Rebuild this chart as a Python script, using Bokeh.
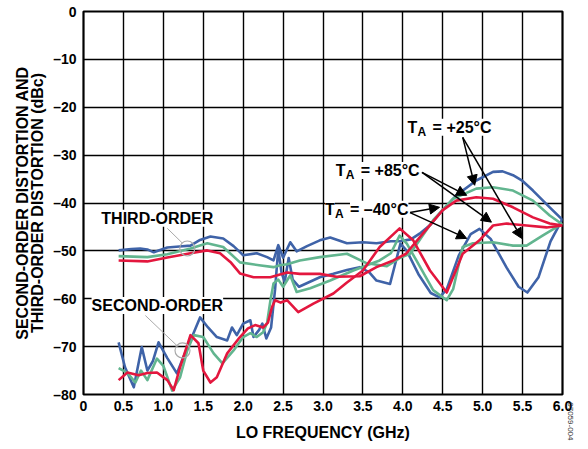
from bokeh.plotting import figure
from bokeh.models import Range1d, Label, Arrow, NormalHead, FixedTicker, LinearAxis, Title
from bokeh.embed import file_html
from bokeh.resources import INLINE

FONT = "Liberation Sans"

# ---------------- data (LO frequency in GHz, distortion in dBc) ----------------
# Third-order, TA = -40 C (blue)
f_3rd_m40 = [0.44, 0.6, 0.71, 0.8, 0.88, 0.96, 1.05, 1.2, 1.34, 1.45, 1.59, 1.75, 1.88, 2.0, 2.17,
             2.3, 2.38, 2.44, 2.5, 2.59, 2.67, 2.8, 2.96, 3.09, 3.3, 3.5, 3.67, 3.85, 3.96, 4.1,
             4.21, 4.35, 4.46, 4.67, 4.92, 5.13, 5.25, 5.38, 5.5, 5.63, 5.84, 6.0]
d_3rd_m40 = [-49.9, -49.6, -49.5, -49.7, -50.3, -49.8, -49.3, -49.1, -48.9, -47.8, -47.0, -47.4, -49.0,
             -50.9, -50.5, -51.3, -52.0, -48.8, -51.4, -48.2, -50.1, -49.0, -47.8, -47.2, -48.4, -48.2,
             -48.4, -48.0, -48.0, -47.6, -46.4, -44.5, -42.2, -38.4, -35.3, -33.5, -33.4, -34.2, -35.4,
             -37.4, -40.9, -43.5]
# Third-order, TA = +25 C (green)
f_3rd_p25 = [0.44, 0.8, 1.05, 1.34, 1.55, 1.75, 1.96, 2.2, 2.38, 2.46, 2.55, 2.71, 2.96, 3.3, 3.55,
             3.8, 3.96, 4.09, 4.2, 4.38, 4.63, 4.92, 5.13, 5.38, 5.63, 5.84, 6.0]
d_3rd_p25 = [-51.1, -51.3, -50.7, -49.5, -48.4, -49.2, -52.4, -53.0, -53.4, -53.0, -52.8, -52.0, -51.3,
             -50.6, -52.6, -53.2, -51.5, -50.6, -48.0, -43.6, -39.1, -37.0, -36.7, -37.4, -39.5, -42.6,
             -44.5]
# Third-order, TA = +85 C (red)
f_3rd_p85 = [0.44, 0.8, 1.05, 1.34, 1.55, 1.71, 1.85, 1.96, 2.13, 2.34, 2.55, 2.71, 2.96, 3.17, 3.46,
             3.67, 3.88, 4.04, 4.25, 4.5, 4.67, 4.92, 5.13, 5.38, 5.63, 5.84, 6.0]
d_3rd_p85 = [-52.0, -52.2, -51.4, -50.5, -49.9, -50.5, -52.5, -54.7, -55.5, -55.5, -54.5, -54.8, -54.8,
             -55.4, -55.3, -53.4, -52.0, -50.6, -46.4, -41.5, -39.5, -38.8, -39.1, -40.9, -43.0, -44.3,
             -44.7]
# Second-order, TA = -40 C (blue)
f_2nd_m40 = [0.44, 0.52, 0.63, 0.73, 0.8, 0.87, 0.94, 1.05, 1.17, 1.25, 1.34, 1.46, 1.56, 1.67, 1.8,
             1.86, 1.92, 2.0, 2.09, 2.13, 2.2, 2.24, 2.29, 2.35, 2.4, 2.44, 2.48, 2.52, 2.57, 2.62,
             2.7, 2.96, 3.13, 3.3, 3.46, 3.58, 3.67, 3.84, 3.9, 3.97, 4.05, 4.2, 4.35, 4.46, 4.55,
             4.7, 4.85, 4.96, 5.1, 5.3, 5.45, 5.56, 5.7, 5.85, 6.0]
d_2nd_m40 = [-69.1, -74.3, -78.5, -70.1, -75.0, -73.0, -69.1, -72.4, -75.6, -72.2, -68.7, -63.9, -66.0,
             -68.0, -68.7, -66.0, -67.6, -65.2, -64.5, -68.0, -66.5, -65.2, -68.3, -66.0, -58.0, -49.5,
             -54.5, -56.5, -51.5, -56.0, -57.5, -55.5, -54.8, -54.0, -53.4, -54.5, -56.2, -56.9, -53.0,
             -48.5, -50.0, -55.0, -58.8, -59.7, -58.0, -51.0, -46.5, -45.4, -47.5, -53.5, -57.5, -58.7,
             -55.5, -48.0, -43.3]
# Second-order, TA = +25 C (green)
f_2nd_p25 = [0.44, 0.55, 0.65, 0.72, 0.8, 0.92, 1.0, 1.11, 1.21, 1.3, 1.38, 1.5, 1.63, 1.74, 1.88,
             2.0, 2.09, 2.17, 2.25, 2.3, 2.34, 2.38, 2.44, 2.5, 2.59, 2.67, 2.84, 3.09, 3.38, 3.55,
             3.71, 3.85, 3.96, 4.05, 4.17, 4.38, 4.55, 4.63, 4.75, 4.88, 5.13, 5.38, 5.55, 5.75, 6.0]
d_2nd_p25 = [-74.5, -75.5, -77.5, -75.0, -77.0, -72.5, -74.0, -79.2, -76.4, -70.8, -67.6, -68.0, -71.4,
             -73.5, -70.8, -68.0, -67.2, -68.0, -67.0, -65.0, -60.5, -56.8, -56.0, -57.5, -55.1, -58.6,
             -57.8, -56.2, -54.1, -53.0, -52.0, -50.5, -46.8, -48.5, -52.0, -58.2, -60.3, -58.0, -49.2,
             -48.4, -48.2, -48.9, -48.9, -46.8, -44.3]
# Second-order, TA = +85 C (red)
f_2nd_p85 = [0.44, 0.55, 0.69, 0.8, 0.92, 1.05, 1.13, 1.21, 1.34, 1.44, 1.5, 1.59, 1.67, 1.8, 1.96,
             2.06, 2.15, 2.25, 2.31, 2.36, 2.4, 2.47, 2.55, 2.69, 2.88, 3.13, 3.3, 3.5, 3.71, 3.96,
             4.13, 4.34, 4.55, 4.75, 4.96, 5.13, 5.3, 5.55, 5.8, 6.0]
d_2nd_p85 = [-77.0, -75.4, -76.0, -75.5, -75.4, -77.0, -79.1, -74.3, -67.6, -69.3, -75.0, -77.5, -76.4,
             -71.4, -68.0, -66.2, -65.5, -66.0, -65.0, -61.8, -60.3, -60.8, -60.3, -62.8, -61.0, -58.9,
             -56.6, -54.1, -49.2, -45.3, -47.8, -54.1, -58.7, -50.6, -47.8, -44.7, -44.3, -44.7, -45.1,
             -44.7]

x_ticks = [0, 0.5, 1.0, 1.5, 2.0, 2.5, 3.0, 3.5, 4.0, 4.5, 5.0, 5.5, 6.0]
x_tick_labels = ["0", "0.5", "1.0", "1.5", "2.0", "2.5", "3.0", "3.5", "4.0", "4.5", "5.0", "5.5", "6.0"]
y_ticks = [0, -10, -20, -30, -40, -50, -60, -70, -80]
y_tick_labels = ["0", "–10", "–20", "–30", "–40", "–50", "–60", "–70", "–80"]

BLUE = "#3F63A8"
GREEN = "#62B58F"
RED = "#E3173E"

p = figure(width=588, height=449, output_backend="svg", toolbar_location=None,
           x_range=Range1d(0, 6), y_range=Range1d(-80, 0),
           min_border_left=83, min_border_right=26, min_border_top=11, min_border_bottom=55)
p.background_fill_color = "white"
p.border_fill_color = "white"
p.outline_line_color = "black"
p.outline_line_width = 2.2

for ax in (p.xaxis[0], p.yaxis[0]):
    ax.axis_line_color = None
    ax.major_tick_line_color = None
    ax.minor_tick_line_color = None
    ax.major_tick_out = 0
    ax.major_tick_in = 0
    ax.minor_tick_out = 0
    ax.major_label_text_font = FONT
    ax.major_label_text_font_style = "bold"
    ax.major_label_text_font_size = "14px"
    ax.major_label_text_color = "black"
    ax.axis_label_text_font = FONT
    ax.axis_label_text_font_style = "bold"
    ax.axis_label_text_color = "black"

p.xaxis[0].ticker = FixedTicker(ticks=x_ticks)
p.xaxis[0].major_label_overrides = {t: s for t, s in zip(x_ticks, x_tick_labels)}
p.xaxis[0].major_label_standoff = 6
p.xaxis[0].axis_label = "LO FREQUENCY (GHz)"
p.xaxis[0].axis_label_text_font_size = "16px"
p.xaxis[0].axis_label_standoff = 10

p.yaxis[0].ticker = FixedTicker(ticks=y_ticks)
p.yaxis[0].major_label_overrides = {t: s for t, s in zip(y_ticks, y_tick_labels)}
p.yaxis[0].major_label_standoff = 7
p.yaxis[0].axis_label = "THIRD-ORDER DISTORTION (dBc)"
p.yaxis[0].axis_label_text_font_size = "16px"
p.yaxis[0].axis_label_standoff = 4

outer = LinearAxis(ticker=FixedTicker(ticks=[]), axis_line_color=None,
                   major_tick_line_color=None, minor_tick_line_color=None,
                   major_tick_out=0, major_tick_in=0, minor_tick_out=0,
                   major_label_standoff=0,
                   axis_label="SECOND-ORDER DISTORTION AND", axis_label_text_font=FONT,
                   axis_label_text_font_style="bold", axis_label_text_font_size="16px",
                   axis_label_text_color="black", axis_label_standoff=-4)
p.add_layout(outer, "left")

# small figure ID at the lower right edge
p.add_layout(Title(text="07059-004", align="right", text_font=FONT, text_font_size="8px",
                   text_font_style="normal", text_color="#333333", standoff=10,
                   offset=-46), "right")

p.xgrid[0].ticker = FixedTicker(ticks=x_ticks)
p.ygrid[0].ticker = FixedTicker(ticks=y_ticks)
for g in (p.xgrid[0], p.ygrid[0]):
    g.grid_line_color = "black"
    g.grid_line_width = 1.4
    g.grid_line_alpha = 1.0

LW = 2.6
p.line(f_3rd_m40, d_3rd_m40, line_color=BLUE, line_width=LW, line_join="round")
p.line(f_2nd_m40, d_2nd_m40, line_color=BLUE, line_width=LW, line_join="round")
p.line(f_3rd_p25, d_3rd_p25, line_color=GREEN, line_width=LW, line_join="round")
p.line(f_2nd_p25, d_2nd_p25, line_color=GREEN, line_width=LW, line_join="round")
p.line(f_3rd_p85, d_3rd_p85, line_color=RED, line_width=LW, line_join="round")
p.line(f_2nd_p85, d_2nd_p85, line_color=RED, line_width=LW, line_join="round")

# ---------------- annotations ----------------
p.line([1.05, 1.24], [-45.3, -48.4], line_color="#aaaaaa", line_width=1)
p.line([0.775, 1.19], [-63.5, -70.1], line_color="#aaaaaa", line_width=1)
p.scatter([1.30, 1.24], [-49.5, -70.8], marker="circle", size=15, fill_color=None,
          line_color="#aaaaaa", line_width=1.2)

def lab(x, y, text, size="16px", align="center", xo=0, yo=0, bg="white", angle=0, color="black",
        style="bold", baseline="middle"):
    p.add_layout(Label(x=x, y=y, text=text, text_font=FONT, text_font_style=style,
                       text_font_size=size, text_align=align, text_baseline=baseline,
                       x_offset=xo, y_offset=yo, background_fill_color=bg, angle=angle,
                       text_color=color))

lab(0.925, -43.2, "THIRD-ORDER")
lab(0.925, -61.4, "SECOND-ORDER")

def ta_label(x, y, rest):
    lab(x, y, "T", align="left")
    lab(x, y, "A", size="12px", align="left", xo=10, yo=-5, bg=None)
    lab(x, y, rest, align="left", xo=25)

ta_label(4.06, -24.2, "= +25°C")
ta_label(3.16, -33.2, "= +85°C")
ta_label(3.025, -41.3, "= –40°C")

arrows = [((4.75, -26.3), (4.90, -36.3)), ((4.75, -26.3), (5.49, -47.4)),
          ((4.24, -33.6), (4.80, -38.4)), ((4.24, -33.6), (5.11, -44.0)),
          ((4.09, -42.0), (4.46, -40.9)), ((4.09, -42.0), (4.80, -47.4))]
for (x0, y0), (x1, y1) in arrows:
    p.add_layout(Arrow(x_start=x0, y_start=y0, x_end=x1, y_end=y1, line_color="black",
                       line_width=1.5,
                       end=NormalHead(size=10, fill_color="black", line_color="black")))

open("out.html", "w").write(file_html(p, INLINE))
